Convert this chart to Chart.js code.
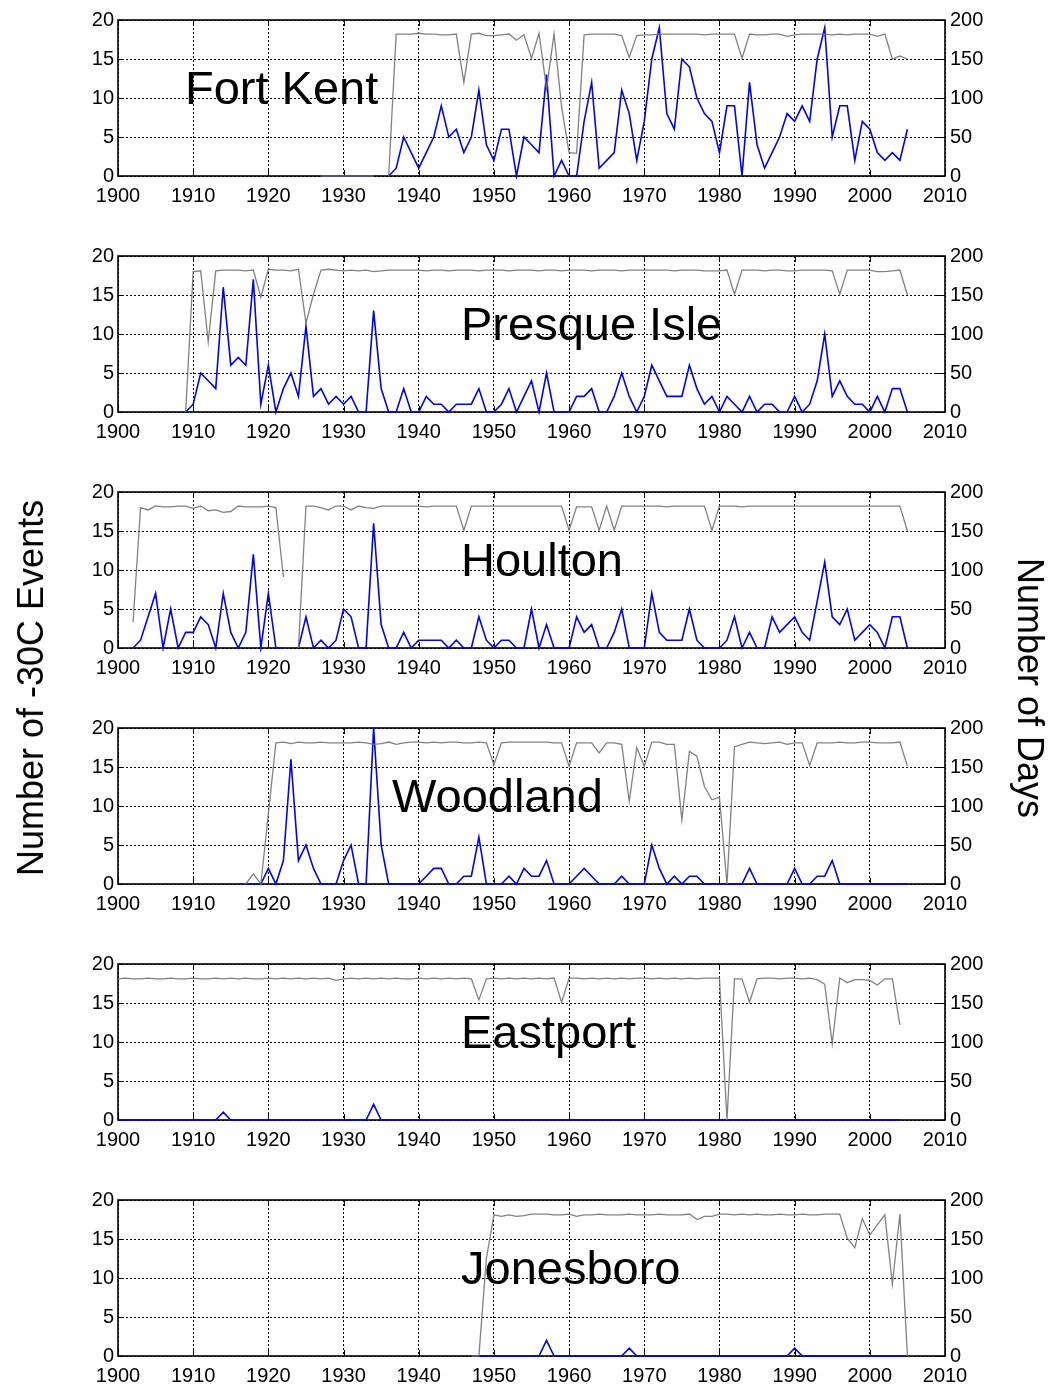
<!DOCTYPE html>
<html><head><meta charset="utf-8">
<script src="https://cdn.jsdelivr.net/npm/chart.js@4.4.1/dist/chart.umd.min.js"></script>
<style>
html,body{margin:0;padding:0;background:#fff;overflow:hidden;}
#wrap{position:relative;width:1052px;height:1385px;overflow:hidden;background:#fff;}
canvas{position:absolute;left:0;}
.ytitle{position:absolute;font-family:"Liberation Sans",Arial,sans-serif;font-size:36px;white-space:nowrap;color:#000;line-height:1;}
</style></head><body>
<div id="wrap">
<canvas id="c0" width="1052" height="236" style="top:0px"></canvas>
<canvas id="c1" width="1052" height="236" style="top:236px"></canvas>
<canvas id="c2" width="1052" height="236" style="top:472px"></canvas>
<canvas id="c3" width="1052" height="236" style="top:708px"></canvas>
<canvas id="c4" width="1052" height="236" style="top:944px"></canvas>
<canvas id="c5" width="1052" height="236" style="top:1180px"></canvas>
<div class="ytitle" style="left:31px;top:688px;transform:translate(-50%,-50%) rotate(-90deg)">Number of -30C Events</div>
<div class="ytitle" style="left:1030px;top:688px;transform:translate(-50%,-50%) rotate(90deg)">Number of Days</div>
</div>
<script>
const YEARS = [
1900,1901,1902,1903,1904,1905,1906,1907,1908,1909,
1910,1911,1912,1913,1914,1915,1916,1917,1918,1919,
1920,1921,1922,1923,1924,1925,1926,1927,1928,1929,
1930,1931,1932,1933,1934,1935,1936,1937,1938,1939,
1940,1941,1942,1943,1944,1945,1946,1947,1948,1949,
1950,1951,1952,1953,1954,1955,1956,1957,1958,1959,
1960,1961,1962,1963,1964,1965,1966,1967,1968,1969,
1970,1971,1972,1973,1974,1975,1976,1977,1978,1979,
1980,1981,1982,1983,1984,1985,1986,1987,1988,1989,
1990,1991,1992,1993,1994,1995,1996,1997,1998,1999,
2000,2001,2002,2003,2004,2005];

const X_TICKS_STEP = 10;
const LEFT_MAX = 20, LEFT_STEP = 5;
const RIGHT_MAX = 200, RIGHT_STEP = 50;
const STATIONS = ['Fort Kent','Presque Isle','Houlton','Woodland','Eastport','Jonesboro'];

// Fort Kent
const FK_EVENTS = [
null,null,null,null,null,null,null,null,null,null,
null,null,null,null,null,null,null,null,null,null,
null,null,null,null,null,null,null,0,0,0,
0,0,0,0,0,null,0,1,5,3,
1,3,5,9,5,6,3,5,11,4,
2,6,6,0,5,4,3,13,0,2,
0,0,7,12,1,2,3,11,8,2,
7,15,19,8,6,15,14,10,8,7,
3,9,9,0,12,4,1,3,5,8,
7,9,7,15,19,5,9,9,2,7,
6,3,2,3,2,6];
const FK_DAYS = [
null,null,null,null,null,null,null,null,null,null,
null,null,null,null,null,null,null,null,null,null,
null,null,null,null,null,null,null,0,0,0,
0,0,0,0,0,null,0,182,182,182,
183,182,182,181,181,182,120,182,183,180,
180,181,182,174,181,151,183,112,182,89,
30,29,181,182,182,182,182,180,152,180,
181,181,182,182,182,182,182,182,181,182,
182,182,182,151,182,181,181,182,182,179,
181,182,182,182,182,181,182,181,182,182,
182,179,182,150,154,150];

// Presque Isle
const PI_EVENTS = [
null,null,null,null,null,null,null,null,null,0,
1,5,4,3,16,6,7,6,17,1,
6,0,3,5,2,11,2,3,1,2,
1,2,0,0,13,3,0,0,3,0,
0,2,1,1,0,1,1,1,3,0,
0,1,3,0,2,4,0,5,0,0,
0,2,2,3,0,0,2,5,2,0,
2,6,4,2,2,2,6,3,1,2,
0,2,1,0,2,0,1,1,0,0,
2,0,1,4,10,2,4,2,1,1,
0,2,0,3,3,0];
const PI_DAYS = [
null,null,null,null,null,null,null,null,null,0,
180,181,90,181,182,182,182,181,182,147,
183,182,182,181,183,114,151,182,183,182,
181,182,181,182,180,181,182,182,182,182,
182,181,182,182,181,182,182,182,181,182,
182,182,181,182,182,182,181,182,182,181,
182,182,182,181,182,182,182,181,182,182,
182,182,182,182,181,182,182,182,181,181,
181,182,151,182,182,182,181,182,182,181,
181,182,182,182,182,181,151,182,182,182,
182,180,180,181,182,150];

// Houlton
const HO_EVENTS = [
null,null,0,1,4,7,0,5,0,2,
2,4,3,0,7,2,0,2,12,0,
7,0,0,null,0,4,0,1,0,1,
5,4,0,0,16,3,0,0,2,0,
1,1,1,1,0,1,0,0,4,1,
0,1,1,0,0,5,0,3,0,0,
0,4,2,3,0,0,2,5,0,0,
0,7,2,1,1,1,5,1,0,0,
0,1,4,0,2,0,0,4,2,3,
4,2,1,6,11,4,3,5,1,2,
3,2,0,4,4,0];
const HO_DAYS = [
null,null,33,180,177,182,181,181,182,182,
179,182,176,177,174,175,182,181,181,181,
182,180,91,null,0,182,182,180,177,182,
182,177,182,180,179,182,182,182,182,182,
182,181,182,182,182,182,151,182,182,182,
182,182,182,182,182,182,182,182,182,182,
151,181,181,181,151,182,151,182,182,182,
182,182,182,181,182,182,182,182,182,151,
182,182,182,181,182,182,182,182,182,182,
182,182,182,182,182,182,182,182,182,182,
182,182,182,182,182,150];

// Woodland
const WO_EVENTS = [
null,null,null,null,null,null,null,null,null,null,
null,null,null,null,null,null,null,0,0,0,
2,0,3,16,3,5,2,0,0,0,
3,5,0,0,20,5,0,0,0,0,
0,1,2,2,0,0,1,1,6,0,
0,0,1,0,2,1,1,3,0,0,
0,1,2,1,0,0,0,1,0,0,
0,5,2,0,1,0,1,1,0,0,
0,0,0,0,2,0,0,0,0,0,
2,0,0,1,1,3,0,0,0,0,
0,0,0,0,0,0];
const WO_DAYS = [
null,null,null,null,null,null,null,null,null,null,
null,null,null,null,null,null,null,0,13,0,
90,181,182,180,182,181,181,182,181,181,
181,181,182,181,179,180,182,179,181,182,
182,181,182,181,182,182,181,181,182,181,
153,181,182,182,182,182,182,182,181,181,
151,181,181,181,168,181,181,179,106,175,
151,182,182,179,179,82,170,164,125,108,
111,0,176,179,182,181,180,181,182,179,
181,181,152,181,181,181,182,181,181,182,
182,181,181,181,182,151];

// Eastport
const EP_EVENTS = [
0,0,0,0,0,0,0,0,0,0,
0,0,0,0,1,0,0,0,0,0,
0,0,0,0,0,0,0,0,0,0,
0,0,0,0,2,0,0,0,0,0,
0,0,0,0,0,0,0,0,0,0,
0,0,0,0,0,0,0,0,0,0,
0,0,0,0,0,0,0,0,0,0,
0,0,0,0,0,0,0,0,0,0,
0,0,0,0,0,0,0,0,0,0,
0,0,0,0,0,0,0,0,0,0,
0,0,0,0,0,null];
const EP_DAYS = [
181,182,181,181,182,181,181,182,181,181,
182,181,181,182,181,182,181,182,181,181,
182,181,182,181,182,181,182,181,182,179,
181,182,181,182,181,182,181,182,181,181,
182,181,182,181,182,181,182,181,154,181,
182,181,182,181,182,181,182,181,182,151,
182,182,181,182,181,182,181,182,181,182,
182,181,182,181,182,181,182,181,182,182,
182,0,181,181,151,181,182,182,181,182,
182,181,182,180,174,98,182,176,180,180,
179,173,181,181,122,null];

// Jonesboro
const JO_EVENTS = [
null,null,null,null,null,null,null,null,null,null,
null,null,null,null,null,null,null,null,null,null,
null,null,null,null,null,null,null,null,null,null,
null,null,null,null,null,null,null,null,null,null,
null,null,null,null,null,null,null,0,0,0,
0,0,0,0,0,0,0,2,0,0,
0,0,0,0,0,0,0,0,1,0,
0,0,0,0,0,0,0,0,0,0,
0,0,0,0,0,0,0,0,0,0,
1,0,0,0,0,0,0,0,0,0,
0,0,0,0,0,0];
const JO_DAYS = [
null,null,null,null,null,null,null,null,null,null,
null,null,null,null,null,null,null,null,null,null,
null,null,null,null,null,null,null,null,null,null,
null,null,null,null,null,null,null,null,null,null,
null,null,null,null,null,null,null,0,0,125,
181,179,181,179,180,182,182,182,181,181,
182,179,181,181,182,181,181,181,182,181,
181,181,182,181,181,181,182,175,179,179,
182,182,181,182,181,182,181,181,182,181,
181,182,181,181,182,182,182,151,139,176,
155,168,181,92,182,0];

const FONT = '"Liberation Sans", Arial, sans-serif';
const PANELS = [
  {id:'c0', name:STATIONS[0], nameX:185, events:FK_EVENTS, days:FK_DAYS},
  {id:'c1', name:STATIONS[1], nameX:461, events:PI_EVENTS, days:PI_DAYS},
  {id:'c2', name:STATIONS[2], nameX:461, events:HO_EVENTS, days:HO_DAYS},
  {id:'c3', name:STATIONS[3], nameX:392, events:WO_EVENTS, days:WO_DAYS},
  {id:'c4', name:STATIONS[4], nameX:461, events:EP_EVENTS, days:EP_DAYS},
  {id:'c5', name:STATIONS[5], nameX:461, events:JO_EVENTS, days:JO_DAYS}
];

const decor = {
  id:'decor',
  beforeDatasetsDraw(chart, args, opts){
    const ctx = chart.ctx;
    const {left,right,top,bottom} = chart.chartArea;
    const xs = chart.scales.x, ys = chart.scales.y, y1 = chart.scales.y1;
    ctx.save();
    ctx.font = '47px ' + FONT;
    ctx.fillStyle = '#000';
    ctx.textBaseline = 'alphabetic';
    ctx.textAlign = 'left';
    ctx.fillText(opts.name, opts.x, top + 84);
    ctx.strokeStyle = '#000';
    ctx.lineWidth = 1;
    ctx.setLineDash([]);
    ctx.beginPath();
    xs.ticks.forEach(t => {
      const px = Math.round(xs.getPixelForValue(t.value)) + 0.5;
      ctx.moveTo(px, bottom); ctx.lineTo(px, bottom - 6);
      ctx.moveTo(px, top); ctx.lineTo(px, top + 6);
    });
    ys.ticks.forEach(t => {
      const py = Math.round(ys.getPixelForValue(t.value)) + 0.5;
      ctx.moveTo(left, py); ctx.lineTo(left + 6, py);
    });
    y1.ticks.forEach(t => {
      const py = Math.round(y1.getPixelForValue(t.value)) + 0.5;
      ctx.moveTo(right, py); ctx.lineTo(right - 10, py);
    });
    ctx.stroke();
    ctx.lineWidth = 1.6;
    ctx.strokeRect(left, top, right - left, bottom - top);
    ctx.restore();
  }
};

PANELS.forEach(p => {
  new Chart(document.getElementById(p.id), {
    type:'line',
    data:{datasets:[
      {label:'Number of Days', data:YEARS.map((yr,i)=>({x:yr, y:p.days[i]})), yAxisID:'y1',
       borderColor:'rgba(115,115,115,0.9)', borderWidth:1.3, pointRadius:0, spanGaps:false, tension:0, clip:4},
      {label:'Number of -30C Events', data:YEARS.map((yr,i)=>({x:yr, y:p.events[i]})), yAxisID:'y',
       borderColor:'#0000ff', borderWidth:1.6, pointRadius:0, spanGaps:false, tension:0, clip:4}
    ]},
    options:{
      responsive:false, animation:false, devicePixelRatio:1,
      layout:{padding:{top:20, left:0, right:0, bottom:0}},
      plugins:{legend:{display:false}, tooltip:{enabled:false}, decor:{name:p.name, x:p.nameX}},
      scales:{
        x:{type:'linear', min:1900, max:2010, afterFit:s=>{s.height=60;},
           ticks:{stepSize:X_TICKS_STEP, autoSkip:false, maxRotation:0, color:'#000',
                  font:{size:20, family:FONT}, padding:8, callback:v=>String(v)},
           grid:{color:'#000', lineWidth:1, drawTicks:false},
           border:{display:false, dash:[2,2]}},
        y:{position:'left', min:0, max:LEFT_MAX, afterFit:s=>{s.width=118;},
           ticks:{stepSize:LEFT_STEP, color:'#000', font:{size:20, family:FONT}, padding:4, callback:v=>String(v)},
           grid:{color:'#000', lineWidth:1, drawTicks:false},
           border:{display:false, dash:[2,2]}},
        y1:{position:'right', min:0, max:RIGHT_MAX, afterFit:s=>{s.width=107;},
           ticks:{stepSize:RIGHT_STEP, color:'#000', font:{size:20, family:FONT}, padding:5, callback:v=>String(v)},
           grid:{drawOnChartArea:false, drawTicks:false},
           border:{display:false}}
      }
    },
    plugins:[decor]
  });
});
</script>
</body></html>
